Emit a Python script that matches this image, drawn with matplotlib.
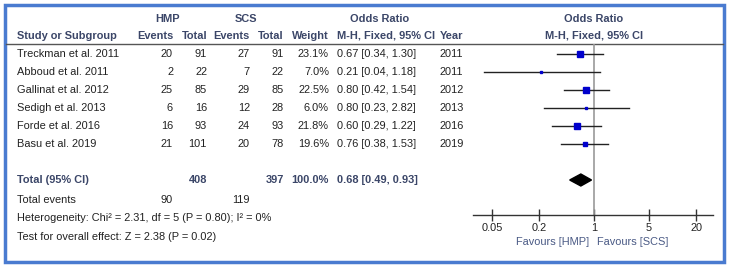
import numpy as np
import matplotlib.pyplot as plt
from matplotlib.patches import Rectangle, Polygon

plt.rcParams['font.family'] = ['Liberation Sans Narrow', 'Liberation Sans', 'DejaVu Sans']

studies = ["Treckman et al. 2011", "Abboud et al. 2011", "Gallinat et al. 2012",
           "Sedigh et al. 2013", "Forde et al. 2016", "Basu et al. 2019"]
hmp_events = [20, 2, 25, 6, 16, 21]
hmp_total = [91, 22, 85, 16, 93, 101]
scs_events = [27, 7, 29, 12, 24, 20]
scs_total = [91, 22, 85, 28, 93, 78]
weights = [23.1, 7.0, 22.5, 6.0, 21.8, 19.6]
odds = [0.67, 0.21, 0.80, 0.80, 0.60, 0.76]
ci_low = [0.34, 0.04, 0.42, 0.23, 0.29, 0.38]
ci_high = [1.30, 1.18, 1.54, 2.82, 1.22, 1.53]
years = [2011, 2011, 2012, 2013, 2016, 2019]

total_or, total_lo, total_hi = 0.68, 0.49, 0.93
total_n = (408, 397)
total_events = (90, 119)
het_text = "Heterogeneity: Chi\u00b2 = 2.31, df = 5 (P = 0.80); I\u00b2 = 0%"
effect_text = "Test for overall effect: Z = 2.38 (P = 0.02)"
ticks = [0.05, 0.2, 1, 5, 20]
tick_labels = ["0.05", "0.2", "1", "5", "20"]

W, H = 734, 268
fig = plt.figure(figsize=(W / 100, H / 100), dpi=100)
ax = fig.add_axes([0, 0, 1, 1])
ax.set_xlim(0, W)
ax.set_ylim(H, 0)
ax.axis("off")

hdr = "#3b4668"
txt = "#222222"
fs = 7.9

# border
ax.add_patch(Rectangle((5, 5), 719, 257, fill=False, ec="#4a7bd0", lw=2.5))

# headers
ax.text(168, 19, "HMP", color=hdr, fontsize=fs, fontweight="bold", ha="center", va="center")
ax.text(246, 19, "SCS", color=hdr, fontsize=fs, fontweight="bold", ha="center", va="center")
ax.text(380, 19, "Odds Ratio", color=hdr, fontsize=fs, fontweight="bold", ha="center", va="center")
ax.text(594, 19, "Odds Ratio", color=hdr, fontsize=fs, fontweight="bold", ha="center", va="center")
hy = 36
ax.text(17, hy, "Study or Subgroup", color=hdr, fontsize=fs, fontweight="bold", va="center")
for x, s in [(173, "Events"), (207, "Total"), (250, "Events"), (284, "Total"), (329, "Weight")]:
    ax.text(x, hy, s, color=hdr, fontsize=fs, fontweight="bold", ha="right", va="center")
ax.text(337, hy, "M-H, Fixed, 95% CI", color=hdr, fontsize=fs, fontweight="bold", va="center")
ax.text(440, hy, "Year", color=hdr, fontsize=fs, fontweight="bold", va="center")
ax.text(594, hy, "M-H, Fixed, 95% CI", color=hdr, fontsize=fs, fontweight="bold", ha="center", va="center")
ax.plot([6, 723], [44, 44], color="#555555", lw=1)

row_y = [54 + 18 * i for i in range(len(studies))]
for i, y in enumerate(row_y):
    ax.text(17, y, studies[i], color=txt, fontsize=fs, va="center")
    ax.text(173, y, str(hmp_events[i]), color=txt, fontsize=fs, ha="right", va="center")
    ax.text(207, y, str(hmp_total[i]), color=txt, fontsize=fs, ha="right", va="center")
    ax.text(250, y, str(scs_events[i]), color=txt, fontsize=fs, ha="right", va="center")
    ax.text(284, y, str(scs_total[i]), color=txt, fontsize=fs, ha="right", va="center")
    ax.text(329, y, f"{weights[i]:.1f}%", color=txt, fontsize=fs, ha="right", va="center")
    ax.text(337, y, f"{odds[i]:.2f} [{ci_low[i]:.2f}, {ci_high[i]:.2f}]", color=txt, fontsize=fs, va="center")
    ax.text(440, y, str(years[i]), color=txt, fontsize=fs, va="center")

ty = 180
ax.text(17, ty, "Total (95% CI)", color=hdr, fontsize=fs, fontweight="bold", va="center")
ax.text(207, ty, str(total_n[0]), color=hdr, fontsize=fs, fontweight="bold", ha="right", va="center")
ax.text(284, ty, str(total_n[1]), color=hdr, fontsize=fs, fontweight="bold", ha="right", va="center")
ax.text(329, ty, "100.0%", color=hdr, fontsize=fs, fontweight="bold", ha="right", va="center")
ax.text(337, ty, f"{total_or:.2f} [{total_lo:.2f}, {total_hi:.2f}]", color=hdr, fontsize=fs,
        fontweight="bold", va="center")
ax.text(17, 200, "Total events", color=txt, fontsize=fs, va="center")
ax.text(173, 200, str(total_events[0]), color=txt, fontsize=fs, ha="right", va="center")
ax.text(250, 200, str(total_events[1]), color=txt, fontsize=fs, ha="right", va="center")
ax.text(17, 218, het_text, color=txt, fontsize=fs, va="center")
ax.text(17, 237, effect_text, color=txt, fontsize=fs, va="center")

# forest panel (log scale)
x_one, px_per_dec = 594, 78.5
left_px, right_px = 473, 713
top_px, axis_px = 44, 215
fax = fig.add_axes([left_px / W, 1 - axis_px / H, (right_px - left_px) / W, (axis_px - top_px) / H])
fax.set_xscale("log")
fax.set_xlim(10 ** ((left_px - x_one) / px_per_dec), 10 ** ((right_px - x_one) / px_per_dec))
fax.set_ylim(axis_px, top_px)
fax.patch.set_alpha(0)
for s in ["top", "right", "left"]:
    fax.spines[s].set_visible(False)
fax.spines["bottom"].set_color("#333333")
fax.spines["bottom"].set_linewidth(1)
fax.set_yticks([])
fax.set_xticks(ticks)
fax.set_xticklabels(tick_labels)
fax.minorticks_off()
fax.tick_params(axis="x", direction="inout", length=9, width=1, color="#333333",
                labelsize=fs, labelcolor=txt, pad=1)
fax.axvline(1, color="#999999", lw=1.2)

for i, y in enumerate(row_y):
    fax.plot([ci_low[i], ci_high[i]], [y, y], color="#222222", lw=1)
    side = 1.5 + 0.18 * weights[i]
    fax.plot(odds[i], y, marker="s", ms=side * 0.7, mfc="#0000cc", mec="#0000cc",
             linestyle="none")

dh = 6
fax.add_patch(Polygon([(total_lo, ty), (total_or, ty - dh), (total_hi, ty), (total_or, ty + dh)],
                      closed=True, fc="black", ec="black"))

fav = "#4a5a85"
ax.text(589, 242, "Favours [HMP]", color=fav, fontsize=fs, ha="right", va="center")
ax.text(597, 242, "Favours [SCS]", color=fav, fontsize=fs, ha="left", va="center")

fig.savefig("out.png", dpi=100)
